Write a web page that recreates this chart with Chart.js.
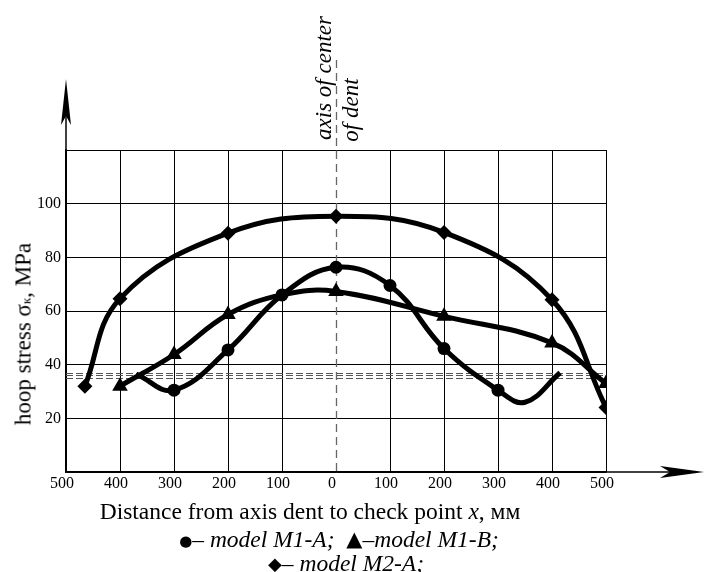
<!DOCTYPE html>
<html>
<head>
<meta charset="utf-8">
<script src="https://cdn.jsdelivr.net/npm/chart.js@4"></script>
<style>
  html, body { margin:0; padding:0; background:#fff; }
  #wrap { position:relative; width:704px; height:572px; overflow:hidden; font-family:"Liberation Serif","Times New Roman",serif; color:#000; }
  canvas { position:absolute; left:0; top:0; }
  .t { position:absolute; white-space:nowrap; line-height:1; }
  .rot { transform:translate(-50%,-50%) rotate(-90deg); }
  .ctr { transform:translate(-50%,-50%); }
  .sym { font-family:"DejaVu Sans",sans-serif; vertical-align:1px; }
</style>
</head>
<body>
<div id="wrap">
  <canvas id="c" width="704" height="572"></canvas>
  <div class="t rot" style="left:23px;top:334px;font-size:23px;">hoop stress σ<span style="font-size:13px;">к</span>, MPa</div>
  <div class="t rot" style="left:323px;top:78px;font-size:23px;font-style:italic;">axis of center</div>
  <div class="t rot" style="left:350px;top:110px;font-size:23px;font-style:italic;">of dent</div>
  <div class="t ctr" style="left:310px;top:512px;font-size:23.5px;">Distance from axis dent to check point <i>x</i>, мм</div>
  <div class="t ctr" style="left:339px;top:540px;font-size:23.5px;"><span class="sym" style="font-size:15px;">●</span>– <i>model M1-A;</i>&nbsp; <span class="sym" style="font-size:21px;">▲</span>–<i>model M1-B;</i></div>
  <div class="t ctr" style="left:346px;top:564px;font-size:23.5px;"><span class="sym" style="font-size:18px;">◆</span>– <i>model M2-A;</i></div>
</div>
<script>
// Distance from dent axis (negative = left side), mm
const xTicks = [-500, -400, -300, -200, -100, 0, 100, 200, 300, 400, 500];
const yTicks = [20, 40, 60, 80, 100];

// model M1-A (circles)
const m1aX = [-370, -300, -200, -100, 0, 100, 200, 300, 350, 415];
const m1aY = [36.5, 30.5, 45.5, 66, 76.3, 69.5, 46, 30.5, 26, 37];
const m1aMarkX = [-300, -200, -100, 0, 100, 200, 300];

// model M1-B (triangles)
const m1bX = [-400, -300, -200, -100, 0, 200, 400, 500];
const m1bY = [32, 43.8, 58.7, 66, 67.3, 58, 48.1, 33];
const m1bMarkX = [-400, -300, -200, 0, 200, 400, 500];

// model M2-A (diamonds)
const m2aX = [-465, -400, -200, 0, 200, 400, 500];
const m2aY = [32, 64.6, 89, 95.3, 89.3, 64.2, 24];
const m2aMarkX = [-465, -400, -200, 0, 200, 400, 500];

// threshold lines (dashed)
const thresholds = [35, 36, 37];

function pts(xs, ys) { return xs.map((x, i) => ({ x: x, y: ys[i] })); }

function series(label, xs, ys, marks, style, r) {
  return {
    label: label,
    data: pts(xs, ys),
    borderColor: '#000',
    backgroundColor: '#000',
    borderWidth: 5,
    tension: 0.4,
    pointStyle: style,
    pointRadius: ctx => (ctx.raw && marks.includes(ctx.raw.x)) ? r : 0,
    pointBorderWidth: 0,
    pointBackgroundColor: '#000',
    pointBorderColor: '#000',
    fill: false
  };
}

const extras = {
  id: 'extras',
  beforeDatasetsDraw(chart) {
    const { ctx, chartArea: a, scales: { x, y } } = chart;
    ctx.save();
    ctx.strokeStyle = '#555';
    ctx.lineWidth = 1.2;
    ctx.setLineDash([7, 3]);
    thresholds.forEach(v => {
      const py = Math.round(y.getPixelForValue(v)) + 0.5;
      ctx.beginPath(); ctx.moveTo(a.left, py); ctx.lineTo(a.right, py); ctx.stroke();
    });
    const px = Math.round(x.getPixelForValue(0)) + 0.5;
    ctx.strokeStyle = '#666';
    ctx.lineWidth = 1.3;
    ctx.setLineDash([8, 5]);
    ctx.beginPath(); ctx.moveTo(px, 60); ctx.lineTo(px, a.bottom); ctx.stroke();
    ctx.restore();
  },
  afterDraw(chart) {
    const { ctx, chartArea: a } = chart;
    ctx.save();
    ctx.strokeStyle = '#000';
    ctx.fillStyle = '#000';
    ctx.lineWidth = 1.5;
    ctx.beginPath(); ctx.moveTo(a.left, a.top); ctx.lineTo(a.left, 100); ctx.stroke();
    ctx.beginPath();
    ctx.moveTo(a.left, 79);
    ctx.lineTo(a.left + 5, 125);
    ctx.lineTo(a.left, 116);
    ctx.lineTo(a.left - 5, 125);
    ctx.closePath(); ctx.fill();
    ctx.beginPath(); ctx.moveTo(a.right, a.bottom); ctx.lineTo(690, a.bottom); ctx.stroke();
    ctx.beginPath();
    ctx.moveTo(704, a.bottom);
    ctx.lineTo(660, a.bottom - 6);
    ctx.lineTo(670, a.bottom);
    ctx.lineTo(660, a.bottom + 6);
    ctx.closePath(); ctx.fill();
    ctx.restore();
  }
};

new Chart(document.getElementById('c'), {
  type: 'line',
  data: {
    datasets: [
      series('model M2-A', m2aX, m2aY, m2aMarkX, 'rectRot', 7.5),
      series('model M1-B', m1bX, m1bY, m1bMarkX, 'triangle', 9),
      series('model M1-A', m1aX, m1aY, m1aMarkX, 'circle', 6.5)
    ]
  },
  options: {
    responsive: false,
    animation: false,
    layout: { padding: { top: 150, right: 98, left: 0, bottom: 0 } },
    plugins: { legend: { display: false }, tooltip: { enabled: false } },
    scales: {
      x: {
        type: 'linear',
        min: -500, max: 500,
        afterBuildTicks: s => { s.ticks = xTicks.map(v => ({ value: v })); },
        afterFit: s => { s.height = 100; },
        ticks: {
          callback: v => String(Math.abs(v)),
          color: '#000',
          font: { family: 'Liberation Serif', size: 16 },
          padding: 2,
          labelOffset: -4,
          maxRotation: 0,
          autoSkip: false
        },
        grid: { color: ctx => (ctx.tick && ctx.tick.value === 0) ? 'rgba(0,0,0,0)' : '#000', lineWidth: 1, drawTicks: false },
        border: { color: '#000', width: 1.5 }
      },
      y: {
        min: 0, max: 120,
        afterBuildTicks: s => { s.ticks = [0].concat(yTicks, [120]).map(v => ({ value: v })); },
        afterFit: s => { s.width = 66; },
        ticks: {
          callback: v => yTicks.includes(v) ? String(v) : '',
          color: '#000',
          font: { family: 'Liberation Serif', size: 16 },
          padding: 5
        },
        grid: { color: '#000', lineWidth: 1, drawTicks: false },
        border: { color: '#000', width: 1.5 }
      }
    }
  },
  plugins: [extras]
});
</script>
</body>
</html>
